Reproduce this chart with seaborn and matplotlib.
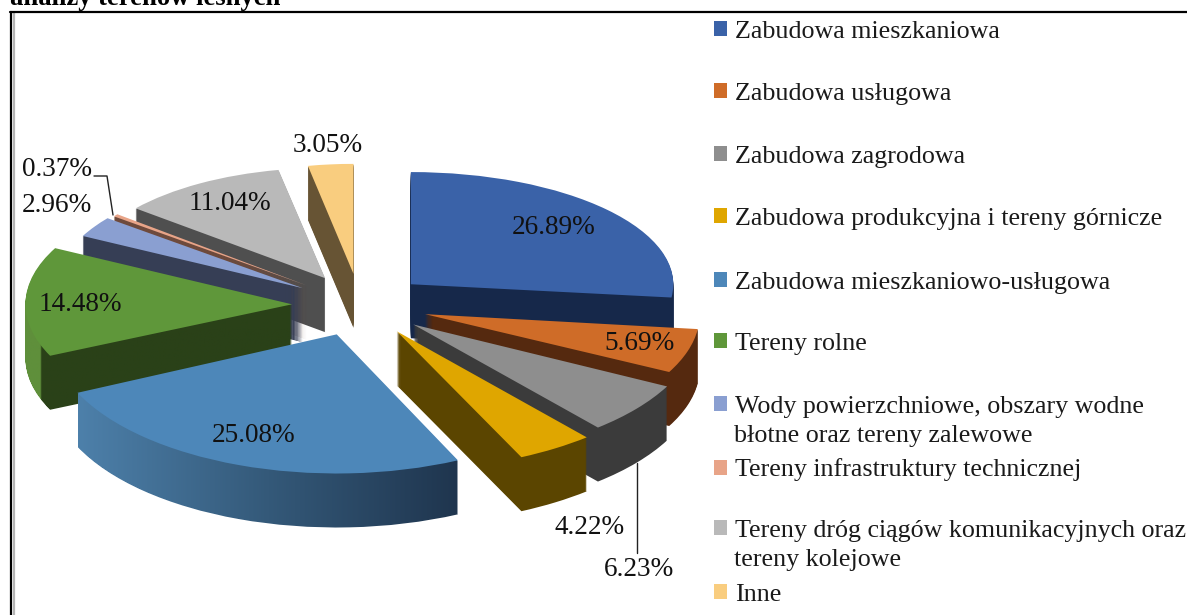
import matplotlib

matplotlib.use("Agg")

import matplotlib.pyplot as plt
import numpy as np
import seaborn as sns
from matplotlib.colors import LinearSegmentedColormap
from matplotlib.lines import Line2D
from matplotlib.patches import Patch
from matplotlib.path import Path
from matplotlib.transforms import Affine2D

categories = [
    "Zabudowa mieszkaniowa",
    "Zabudowa usługowa",
    "Zabudowa zagrodowa",
    "Zabudowa produkcyjna i tereny górnicze",
    "Zabudowa mieszkaniowo-usługowa",
    "Tereny rolne",
    "Wody powierzchniowe, obszary wodne\nbłotne oraz tereny zalewowe",
    "Tereny infrastruktury technicznej",
    "Tereny dróg ciągów komunikacyjnych oraz\ntereny kolejowe",
    "Inne",
]
shares = [26.89, 5.69, 6.23, 4.22, 25.08, 14.48, 2.96, 0.37, 11.04, 3.05]
top_colors = ["#3a62a8", "#cf6c28", "#8e8e8e", "#dfa600", "#4d87b9",
              "#5f973a", "#8a9fd1", "#e8a488", "#b9b9b9", "#f9cd7f"]
side_colors = ["#16284a", "#55290f", "#3b3b3b", "#5b4500", "#2f5070",
               "#2a4118", "#363e55", "#6e4a3c", "#4f4f4f", "#675434"]

W, H = 1187, 615
RX, RY = 272, 125
CX, CY = 360, 305
DEPTH = 54

explode = [0.25] * len(shares)
# the 3d view makes front slices larger and flatter ones at the back
radius_scale = [0.965, 1.01, 1.05, 1.08, 1.05, 0.98, 0.91, 0.90, 0.90, 0.88]
height_scale = [0.93, 1.0, 1.03, 1.03, 1.06, 1.0, 1.0, 1.0, 0.98, 1.0]
draw_rank = [1, 2, 3, 4, 5, 4, 3, 2, 1, 1]
side_gradients = {
    4: [(0, "#4d80aa"), (0.5, "#345979"), (1, "#1f354e")],
    5: [(0, "#5f8f3b"), (0.055, "#5f8f3b"), (0.06, "#2a4118"), (1, "#2a4118")],
}

label_px = [(554, 227), (639, 344), (639, 569), (590, 527), (254, 436),
            (80, 305), (57, 206), (57, 169), (230, 203), (328, 146)]
legend_px = [32, 94, 157, 219, 283, 344, 407, 470, 531, 595]

sns.set_theme(style="white")
plt.rcParams["font.family"] = ["Liberation Serif", "DejaVu Serif"]


def fig_xy(x, y):
    return x / W, 1 - y / H


def squash(center_y, scale):
    return Affine2D().translate(0, -center_y).scale(1, scale).translate(0, center_y)


def draw_pie(ax, center_y, colors, zorder_step):
    wedges, _ = ax.pie(
        shares,
        explode=explode,
        colors=colors,
        center=(0, center_y),
        startangle=90,
        counterclock=False,
        wedgeprops={"linewidth": 0},
    )
    for i, wedge in enumerate(wedges):
        wedge.set_radius(radius_scale[i])
        wedge.set_transform(squash(wedge.center[1], height_scale[i]) + ax.transData)
        wedge.set_zorder(draw_rank[i] + zorder_step)
    return wedges


fig = plt.figure(figsize=(W / 100, H / 100), dpi=100, facecolor="white")
ax = fig.add_axes([0, 0, 1, 1])

side_layers = [[] for _ in shares]
for depth in range(DEPTH, 0, -1):
    layer = draw_pie(ax, -depth / RY, sns.color_palette(side_colors), 0.1)
    for i, wedge in enumerate(layer):
        side_layers[i].append(wedge)
top_wedges = draw_pie(ax, 0, sns.color_palette(top_colors), 0.6)

# curved outer walls get a horizontal shading instead of one flat colour
for i, stops in side_gradients.items():
    paths = []
    for wedge in side_layers[i]:
        wedge.set_visible(False)
        paths.append(squash(wedge.center[1], height_scale[i]).transform_path(wedge.get_path()))
    outline = Path.make_compound_path(*paths)
    x0, y0 = outline.vertices.min(axis=0)
    x1, y1 = outline.vertices.max(axis=0)
    cmap = LinearSegmentedColormap.from_list(f"side{i}", stops)
    image = ax.imshow(
        np.linspace(0, 1, 256).reshape(1, -1),
        cmap=cmap,
        extent=(x0, x1, y0, y1),
        aspect="auto",
        zorder=draw_rank[i] + 0.1,
    )
    image.set_clip_path(outline, ax.transData)

ax.set_aspect("auto")
ax.set_xlim(-CX / RX, (W - CX) / RX)
ax.set_ylim(-(H - CY) / RY, CY / RY)
ax.axis("off")

for value, (x, y) in zip(shares, label_px):
    fx, fy = fig_xy(x, y)
    fig.text(fx, fy, f"{value:.2f}%", fontsize=19.6, color="#111111",
             ha="center", va="center", zorder=10)

for i, name in enumerate(categories):
    lines = name.split("\n")
    fx, fy = fig_xy(714, legend_px[i])
    fig.legend(
        handles=[Patch(facecolor=top_colors[i], linewidth=0)],
        labels=[lines[0]],
        loc="center left",
        bbox_to_anchor=(fx, fy),
        frameon=False,
        fontsize=18.7,
        borderpad=0,
        borderaxespad=0,
        handlelength=0.5,
        handleheight=0.5,
        handletextpad=0.3,
        labelcolor="#1a1a1a",
    )
    # excel keeps the swatch on the first line of a wrapped entry
    if len(lines) > 1:
        fx, fy = fig_xy(734, legend_px[i] + 29)
        fig.text(fx, fy, lines[1], fontsize=18.7, color="#1a1a1a", ha="left", va="center")

# leader lines
for xs, ys in [((94, 107, 113), (176, 176, 215)), ((637, 637), (463, 553))]:
    fx, fy = zip(*[fig_xy(x, y) for x, y in zip(xs, ys)])
    fig.add_artist(Line2D(fx, fy, color="#222222", lw=1, zorder=10))

# frame of the page scan
for xs, ys, color, lw in [
    ((11, 11), (12, 615), "black", 1.6),
    ((14, 14), (13, 615), "#b5b5b5", 1.6),
    ((10, 1187), (12, 12), "black", 1.6),
]:
    fx, fy = zip(*[fig_xy(x, y) for x, y in zip(xs, ys)])
    fig.add_artist(Line2D(fx, fy, color=color, lw=lw, zorder=10))

fig.text(10 / W, 1 - 5 / H, "analizy terenów leśnych", fontsize=19.2,
         fontweight="bold", color="black", ha="left", va="baseline")

fig.savefig("out.png", dpi=100)
